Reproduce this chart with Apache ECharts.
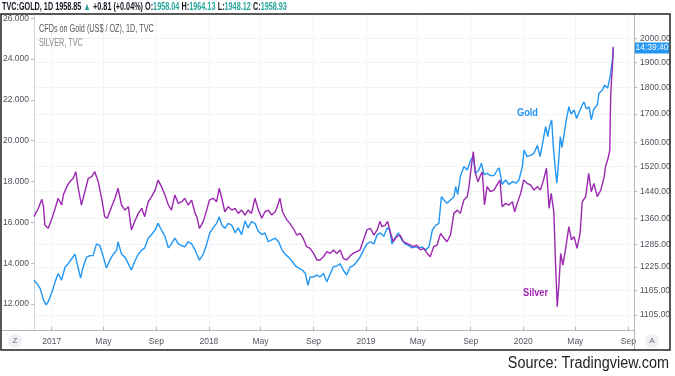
<!DOCTYPE html>
<html>
<head>
<meta charset="utf-8">
<script src="https://cdn.jsdelivr.net/npm/echarts@6/dist/echarts.min.js"></script>
<style>
  html, body { margin: 0; padding: 0; background: #fff; }
  #chart { width: 675px; height: 376px; }
</style>
</head>
<body>
<div id="chart"></div>
<script>
// silver (left scale, linear)
const silverDates = [
  '2016-11-21','2016-12-01','2016-12-09','2016-12-13','2016-12-16','2016-12-24','2017-01-03','2017-01-09','2017-01-16','2017-01-24',
  '2017-01-28','2017-02-05','2017-02-12','2017-02-20','2017-02-26','2017-03-03','2017-03-11','2017-03-19','2017-03-27','2017-04-04',
  '2017-04-11','2017-04-19','2017-04-27','2017-05-04','2017-05-10','2017-05-20','2017-05-28','2017-06-04','2017-06-12','2017-06-20',
  '2017-06-28','2017-07-05','2017-07-13','2017-07-21','2017-07-29','2017-08-05','2017-08-13','2017-08-21','2017-08-29','2017-09-05',
  '2017-09-13','2017-09-21','2017-09-29','2017-10-06','2017-10-14','2017-10-22','2017-10-30','2017-11-06','2017-11-14','2017-11-22',
  '2017-11-30','2017-12-04','2017-12-10','2017-12-19','2017-12-27','2018-01-02','2018-01-11','2018-01-19','2018-01-25','2018-01-31',
  '2018-02-07','2018-02-15','2018-02-23','2018-03-03','2018-03-10','2018-03-18','2018-03-26','2018-04-02','2018-04-10','2018-04-18',
  '2018-04-26','2018-05-04','2018-05-11','2018-05-19','2018-05-27','2018-06-04','2018-06-09','2018-06-15','2018-06-21','2018-07-01',
  '2018-07-08','2018-07-16','2018-07-24','2018-08-01','2018-08-08','2018-08-16','2018-08-24','2018-09-01','2018-09-09','2018-09-16',
  '2018-09-24','2018-10-02','2018-10-10','2018-10-17','2018-10-25','2018-11-02','2018-11-09','2018-11-17','2018-11-25','2018-12-02',
  '2018-12-10','2018-12-18','2018-12-26','2019-01-03','2019-01-11','2019-01-19','2019-01-27','2019-02-02','2019-02-07','2019-02-15',
  '2019-02-20','2019-02-26','2019-03-05','2019-03-13','2019-03-21','2019-03-29','2019-04-06','2019-04-14','2019-04-21','2019-04-29',
  '2019-05-07','2019-05-15','2019-05-23','2019-05-30','2019-06-07','2019-06-15','2019-06-23','2019-07-01','2019-07-08','2019-07-16',
  '2019-07-24','2019-08-01','2019-08-08','2019-08-16','2019-08-24','2019-08-28','2019-09-01','2019-09-07','2019-09-12','2019-09-18',
  '2019-09-24','2019-09-28','2019-10-03','2019-10-09','2019-10-17','2019-10-25','2019-11-02','2019-11-08','2019-11-13','2019-11-21',
  '2019-11-29','2019-12-07','2019-12-12','2019-12-18','2019-12-26','2020-01-02','2020-01-10','2020-01-18','2020-01-26','2020-02-03',
  '2020-02-10','2020-02-17','2020-02-24','2020-03-01','2020-03-06','2020-03-12','2020-03-16','2020-03-20','2020-03-24','2020-03-28',
  '2020-04-02','2020-04-08','2020-04-16','2020-04-22','2020-04-28','2020-05-05','2020-05-12','2020-05-17','2020-05-25','2020-06-01',
  '2020-06-07','2020-06-13','2020-06-21','2020-06-29','2020-07-07','2020-07-10','2020-07-16','2020-07-20','2020-07-22','2020-07-24',
  '2020-07-27','2020-07-28'
];
const silverValues = [
  16.28,16.69,17.13,16.77,15.87,15.71,16.28,16.69,17.18,16.85,
  17.34,17.75,17.99,18.16,18.48,17.75,16.85,17.50,18.16,18.24,
  18.48,17.99,17.18,16.28,16.20,16.77,17.18,17.67,16.85,16.60,
  16.77,15.63,16.05,16.44,16.69,16.28,17.01,17.26,17.58,18.07,
  17.75,17.34,16.85,16.60,17.34,16.93,17.01,17.18,16.85,17.09,
  16.44,16.28,15.71,16.05,16.60,17.09,17.18,17.01,17.67,17.18,
  16.52,16.77,16.60,16.69,16.44,16.60,16.36,16.60,16.44,17.18,
  16.60,16.20,16.52,16.60,16.36,16.52,16.77,17.18,16.52,16.12,
  15.95,15.71,15.38,15.46,15.22,14.81,14.73,14.48,14.16,14.16,
  14.32,14.57,14.48,14.65,14.48,14.65,14.24,14.16,14.36,14.48,
  14.57,14.65,15.14,15.63,15.71,15.38,15.63,16.05,15.79,15.87,
  16.05,15.54,15.05,15.30,15.38,15.05,14.97,14.89,14.81,14.89,
  14.65,14.73,14.48,14.32,14.81,14.89,15.46,15.22,15.05,15.38,
  16.44,16.60,16.44,17.09,17.26,17.75,18.48,19.46,18.40,17.99,
  18.32,18.48,16.85,17.75,17.50,17.58,17.87,18.07,16.77,16.93,
  16.85,17.01,16.52,16.93,17.42,18.07,17.91,17.83,17.58,17.75,
  17.58,18.07,18.65,16.69,17.42,16.52,14.00,11.87,13.02,14.48,
  13.91,14.65,15.79,15.14,15.30,14.73,15.46,17.01,17.26,18.40,
  17.50,17.91,17.26,17.58,18.24,18.73,19.14,19.54,22.15,22.97,
  23.95,24.60
];

// gold (right scale, logarithmic)
const goldDates = [
  '2016-11-21','2016-11-27','2016-12-05','2016-12-13','2016-12-19','2016-12-24','2017-01-02','2017-01-09','2017-01-16','2017-01-24',
  '2017-02-01','2017-02-08','2017-02-16','2017-02-24','2017-03-03','2017-03-09','2017-03-15','2017-03-23','2017-03-31','2017-04-07',
  '2017-04-15','2017-04-23','2017-05-01','2017-05-08','2017-05-16','2017-05-24','2017-06-01','2017-06-04','2017-06-12','2017-06-20',
  '2017-06-28','2017-07-05','2017-07-13','2017-07-21','2017-07-29','2017-08-05','2017-08-13','2017-08-21','2017-08-29','2017-09-05',
  '2017-09-13','2017-09-21','2017-09-29','2017-10-06','2017-10-14','2017-10-22','2017-10-30','2017-11-06','2017-11-14','2017-11-22',
  '2017-11-30','2017-12-04','2017-12-10','2017-12-19','2017-12-27','2018-01-03','2018-01-11','2018-01-19','2018-01-25','2018-01-31',
  '2018-02-07','2018-02-15','2018-02-23','2018-03-03','2018-03-10','2018-03-18','2018-03-26','2018-04-02','2018-04-10','2018-04-18',
  '2018-04-26','2018-05-04','2018-05-11','2018-05-19','2018-05-27','2018-06-04','2018-06-12','2018-06-20','2018-06-27','2018-07-05',
  '2018-07-13','2018-07-21','2018-07-29','2018-08-06','2018-08-13','2018-08-19','2018-08-24','2018-09-01','2018-09-09','2018-09-16',
  '2018-09-24','2018-10-02','2018-10-10','2018-10-17','2018-10-25','2018-11-02','2018-11-09','2018-11-17','2018-11-25','2018-12-02',
  '2018-12-10','2018-12-18','2018-12-26','2019-01-03','2019-01-11','2019-01-19','2019-01-27','2019-02-03','2019-02-11','2019-02-19',
  '2019-02-25','2019-03-02','2019-03-09','2019-03-17','2019-03-25','2019-04-02','2019-04-10','2019-04-18','2019-04-25','2019-05-03',
  '2019-05-11','2019-05-19','2019-05-27','2019-06-04','2019-06-12','2019-06-19','2019-06-25','2019-07-01','2019-07-08','2019-07-16',
  '2019-07-24','2019-07-28','2019-08-02','2019-08-08','2019-08-16','2019-08-24','2019-09-01','2019-09-07','2019-09-12','2019-09-20',
  '2019-09-26','2019-10-02','2019-10-09','2019-10-17','2019-10-25','2019-11-02','2019-11-06','2019-11-13','2019-11-21','2019-11-29',
  '2019-12-07','2019-12-15','2019-12-22','2019-12-30','2020-01-03','2020-01-10','2020-01-18','2020-01-26','2020-02-03','2020-02-09',
  '2020-02-14','2020-02-22','2020-02-27','2020-03-02','2020-03-07','2020-03-11','2020-03-15','2020-03-19','2020-03-23','2020-03-27',
  '2020-03-31','2020-04-04','2020-04-10','2020-04-16','2020-04-21','2020-04-28','2020-05-04','2020-05-09','2020-05-15','2020-05-21',
  '2020-05-27','2020-06-02','2020-06-07','2020-06-13','2020-06-21','2020-06-25','2020-07-03','2020-07-08','2020-07-15','2020-07-18',
  '2020-07-22','2020-07-26','2020-07-28'
];
const goldValues = [
  1191,1183,1170,1141,1129,1137,1162,1187,1208,1191,
  1225,1233,1246,1259,1225,1196,1225,1251,1255,1255,
  1287,1282,1251,1222,1243,1259,1270,1293,1259,1251,
  1233,1217,1240,1259,1270,1276,1303,1313,1326,1345,
  1326,1308,1276,1287,1303,1287,1282,1279,1293,1287,
  1270,1259,1243,1259,1287,1318,1332,1345,1364,1340,
  1331,1345,1340,1318,1332,1313,1352,1332,1350,1345,
  1322,1313,1318,1293,1298,1303,1293,1270,1259,1251,
  1240,1228,1222,1217,1208,1178,1199,1199,1204,1199,
  1208,1187,1208,1225,1228,1233,1217,1204,1225,1228,
  1238,1251,1270,1287,1293,1287,1313,1318,1308,1332,
  1326,1287,1303,1318,1298,1287,1282,1276,1279,1276,
  1279,1270,1279,1326,1340,1345,1424,1414,1404,1414,
  1424,1455,1431,1487,1519,1508,1541,1552,1497,1508,
  1530,1493,1497,1490,1490,1508,1515,1462,1476,1462,
  1471,1466,1476,1519,1574,1552,1556,1563,1590,1552,
  1590,1655,1620,1655,1679,1583,1519,1466,1531,1620,
  1583,1620,1679,1727,1700,1715,1684,1704,1727,1745,
  1719,1727,1679,1719,1734,1778,1790,1809,1797,1820,
  1855,1909,1958
];

const silverTicks = [12, 14, 16, 18, 20, 22, 24, 26];
const goldTicks = [1105, 1165, 1225, 1285, 1360, 1440, 1520, 1600, 1700, 1800, 1900, 2000];
const timeTicks = ['2017-01-01','2017-05-01','2017-09-01','2018-01-01','2018-05-01','2018-09-01',
  '2019-01-01','2019-05-01','2019-09-01','2020-01-01','2020-05-01','2020-09-01'];
const timeTickLabels = ['2017','May','Sep','2018','May','Sep','2019','May','Sep','2020','May','Sep'];

const lastGold = 1958.85;
const countdown = '14:39:40';

const GOLD = '#2196f3';
const SILVER = '#9c27b0';
const UP = '#26a69a';
const NARROW = "'Liberation Sans Narrow', 'Liberation Sans', sans-serif";

const ts = s => echarts.time.parse(s).getTime();
const tickStamps = timeTicks.map(ts);

const chart = echarts.init(document.getElementById('chart'), null, { renderer: 'canvas' });

const axisText = { color: '#50535e', fontSize: 8.5, fontFamily: NARROW };

const option = {
  animation: false,
  backgroundColor: '#fff',
  grid: { left: 34, right: 41, top: 14, bottom: 46 },
  xAxis: {
    type: 'value',
    min: ts('2016-11-20 21:00'),
    max: ts('2020-09-14 05:00'),
    axisLine: { lineStyle: { color: '#b2b5be', width: 1 } },
    axisTick: { customValues: tickStamps, inside: true, length: 3, lineStyle: { color: '#b2b5be' } },
    axisLabel: Object.assign({
      customValues: tickStamps,
      margin: 7,
      formatter: v => {
        const i = tickStamps.findIndex(t => Math.abs(t - v) < 43200000);
        return i < 0 ? '' : timeTickLabels[i];
      }
    }, axisText),
    splitLine: { show: true, lineStyle: { color: '#f0f3fa', width: 1 } }
  },
  yAxis: [{
    type: 'value',
    position: 'left',
    min: 10.729,
    max: 26.204,
    axisLine: { show: true, lineStyle: { color: '#d1d4dc' } },
    axisTick: { show: true, customValues: silverTicks, length: 3, lineStyle: { color: '#b2b5be' } },
    axisLabel: Object.assign({
      customValues: silverTicks,
      margin: 5,
      formatter: v => v.toFixed(3)
    }, axisText),
    splitLine: { show: false }
  }, {
    type: 'value',
    position: 'right',
    min: 3.02943,
    max: 3.32366,
    axisLine: { show: true, lineStyle: { color: '#b2b5be' } },
    axisTick: { show: true, customValues: goldTicks.map(v => Math.log10(v)), length: 3, lineStyle: { color: '#b2b5be' } },
    axisLabel: Object.assign({
      customValues: goldTicks.map(v => Math.log10(v)),
      margin: 6,
      formatter: v => Math.round(Math.pow(10, v)).toFixed(2)
    }, axisText),
    splitLine: { show: true, lineStyle: { color: '#f0f3fa', width: 1 } }
  }],
  series: [{
    name: 'Gold',
    type: 'line',
    yAxisIndex: 1,
    symbol: 'none',
    silent: true,
    lineStyle: { color: GOLD, width: 1.4 },
    data: goldDates.map((d, i) => [ts(d), Math.log10(goldValues[i])])
  }, {
    name: 'Silver',
    type: 'line',
    yAxisIndex: 0,
    symbol: 'none',
    silent: true,
    lineStyle: { color: SILVER, width: 1.4 },
    data: silverDates.map((d, i) => [ts(d), silverValues[i]])
  }]
};

chart.setOption(option);

// price tag on the right scale, placed through the gold axis
const tagY = chart.convertToPixel({ yAxisIndex: 1 }, Math.log10(lastGold));

chart.setOption({
  graphic: [
    { type: 'rect', z: 50, shape: { x: 0, y: 0, width: 675, height: 15 }, style: { fill: '#fff' } },
    { type: 'rect', z: 50, shape: { x: 0, y: 351, width: 675, height: 25 }, style: { fill: '#fff' } },
    { type: 'rect', z: 60, shape: { x: 1, y: 14, width: 669, height: 336 }, style: { fill: null, stroke: '#222', lineWidth: 1.5 } },
    { type: 'line', z: 40, shape: { x1: 1, y1: 330.5, x2: 34, y2: 330.5 }, style: { stroke: '#b2b5be', lineWidth: 1 } },
    { type: 'line', z: 40, shape: { x1: 634.5, y1: 330, x2: 634.5, y2: 350 }, style: { stroke: '#b2b5be', lineWidth: 1 } },
    {
      type: 'text', z: 70, x: 2, y: 7, scaleX: 0.69,
      style: {
        text: '{d|TVC:GOLD, 1D 1958.85} {g|▲} {d|+0.81 (+0.04%) O:}{g|1958.04} {d|H:}{g|1964.13} {d|L:}{g|1948.12} {d|C:}{g|1958.93}',
        verticalAlign: 'middle',
        rich: {
          d: { fill: '#131722', fontSize: 10.5, fontWeight: 'bold', fontFamily: NARROW },
          g: { fill: UP, fontSize: 10.5, fontWeight: 'bold', fontFamily: NARROW }
        }
      }
    },
    { type: 'text', z: 70, x: 39, y: 29, scaleX: 0.69, style: { text: 'CFDs on Gold (US$ / OZ), 1D, TVC', fill: '#555', fontSize: 10.5, fontFamily: NARROW, verticalAlign: 'middle' } },
    { type: 'text', z: 70, x: 39, y: 43, scaleX: 0.69, style: { text: 'SILVER, TVC', fill: '#888', fontSize: 10.5, fontFamily: NARROW, verticalAlign: 'middle' } },
    { type: 'text', z: 70, x: 517, y: 113, scaleX: 0.8, style: { text: 'Gold', fill: GOLD, fontSize: 11.5, fontWeight: 'bold', fontFamily: NARROW, verticalAlign: 'middle' } },
    { type: 'text', z: 70, x: 523, y: 293, scaleX: 0.8, style: { text: 'Silver', fill: SILVER, fontSize: 11.5, fontWeight: 'bold', fontFamily: NARROW, verticalAlign: 'middle' } },
    { type: 'rect', z: 70, shape: { x: 635, y: tagY - 5.5, width: 34, height: 11 }, style: { fill: GOLD } },
    { type: 'text', z: 71, x: 652, y: tagY, style: { text: countdown, fill: '#fff', fontSize: 8.5, fontFamily: NARROW, align: 'center', verticalAlign: 'middle' } },
    { type: 'circle', z: 70, shape: { cx: 15, cy: 341, r: 7 }, style: { fill: '#eef0f4' } },
    { type: 'text', z: 71, x: 15, y: 341, style: { text: 'Z', fill: '#6a6d78', fontSize: 8, fontFamily: NARROW, align: 'center', verticalAlign: 'middle' } },
    { type: 'circle', z: 70, shape: { cx: 652, cy: 341, r: 7 }, style: { fill: '#eef0f4' } },
    { type: 'text', z: 71, x: 652, y: 341, style: { text: 'A', fill: '#6a6d78', fontSize: 8, fontFamily: NARROW, align: 'center', verticalAlign: 'middle' } },
    { type: 'text', z: 70, x: 669, y: 364, scaleX: 0.9, style: { text: 'Source: Tradingview.com', fill: '#222', fontSize: 16, fontFamily: NARROW, align: 'right', verticalAlign: 'middle' } }
  ]
});
</script>
</body>
</html>
